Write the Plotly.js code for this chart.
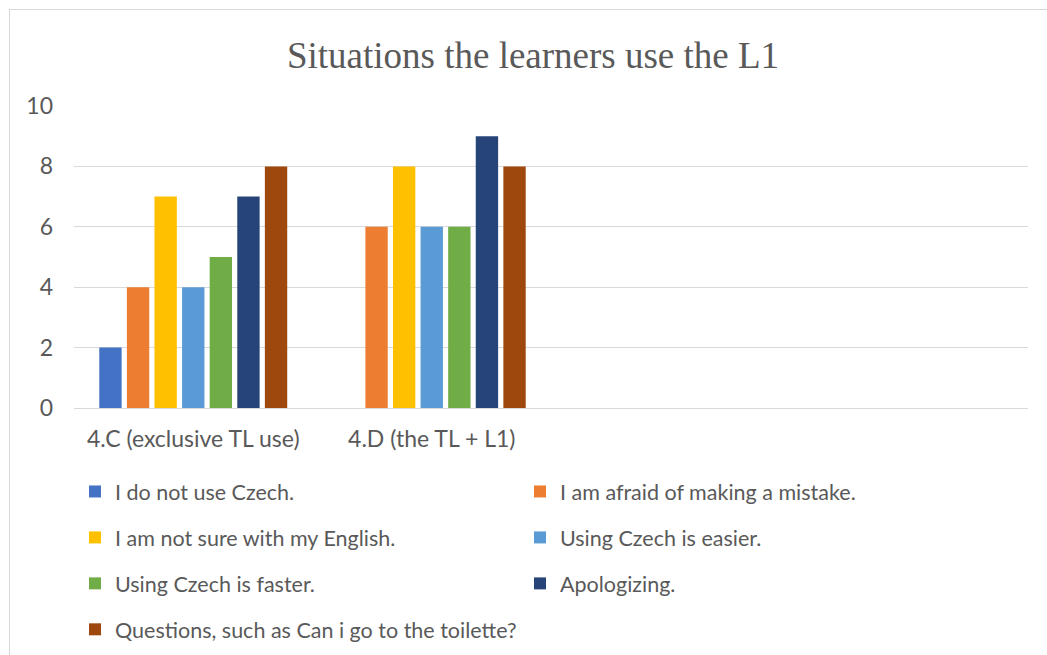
<!DOCTYPE html>
<html>
<head>
<meta charset="utf-8">
<script src="https://cdn.plot.ly/plotly-3.0.1.min.js"></script>
<style>
html,body{margin:0;padding:0;background:#fff;}
#wrap{position:relative;width:1047px;height:655px;overflow:hidden;}
#chart{position:absolute;left:0;top:0;width:1047px;height:655px;}
#frame{position:absolute;left:9px;top:9px;width:1100px;height:700px;border:1px solid #d9d9d9;pointer-events:none;}
</style>
</head>
<body>
<div id="wrap"><div id="chart"></div><div id="frame"></div></div>
<script>
const categories = ["4.C (exclusive TL use)", "4.D (the TL + L1)"];
const seriesNames = [
  "I do not use Czech.",
  "I am afraid of making a mistake.",
  "I am not sure with my English.",
  "Using Czech is easier.",
  "Using Czech is faster.",
  "Apologizing.",
  "Questions, such as Can i go to the toilette?"
];
const doNotUseCzech = [2, null];
const afraidMistake = [4, 6];
const notSureEnglish = [7, 8];
const czechEasier = [4, 6];
const czechFaster = [5, 6];
const apologizing = [7, 9];
const questions = [8, 8];
const seriesValues = [doNotUseCzech, afraidMistake, notSureEnglish, czechEasier, czechFaster, apologizing, questions];
const colors = ["#4472C4", "#ED7D31", "#FFC000", "#5B9BD5", "#70AD47", "#264478", "#9E480E"];

const textColor = "#595959";
const traces = seriesNames.map((name, i) => ({
  type: "bar",
  name: name,
  x: categories,
  y: seriesValues[i],
  marker: {color: colors[i]},
  legend: (i % 2 === 0) ? "legend" : "legend2",
  legendgroup: "g" + i,
  hoverinfo: "y+name"
}));

const sans = "Lato, 'Liberation Sans', sans-serif";
const legendFont = {family: sans, size: 21.5, color: textColor};
const plotH = 655 - 106 - 247;
const plotW = 1047 - 74 - 19;
function px2paperX(px){ return (px - 74) / plotW; }
function px2paperY(py){ return (655 - 247 - py) / plotH; }

const layout = {
  width: 1047, height: 655,
  margin: {l: 74, r: 19, t: 106, b: 247, autoexpand: false},
  paper_bgcolor: "rgba(0,0,0,0)",
  plot_bgcolor: "#fff",
  title: {
    text: "Situations the learners use the L1",
    font: {family: "'Liberation Serif', 'Times New Roman', serif", size: 37, color: textColor},
    x: 533 / 1047, xanchor: "center", y: 1 - 55/655, yanchor: "middle"
  },
  barmode: "group",
  bargap: 0.19,
  bargroupgap: 0.19,
  xaxis: {
    type: "category",
    range: [-0.5, 3.5],
    showgrid: false,
    showline: false,
    ticks: "",
    tickfont: {family: sans, size: 23, color: textColor},
    ticklabelstandoff: 15,
    fixedrange: true
  },
  yaxis: {
    range: [0, 10],
    dtick: 2,
    tick0: 0,
    showgrid: true,
    gridcolor: "#d9d9d9",
    gridwidth: 1,
    zeroline: true,
    zerolinecolor: "#d9d9d9",
    zerolinewidth: 1,
    showline: false,
    ticks: "",
    tickfont: {family: sans, size: 23, color: textColor},
    ticklabelstandoff: 20,
    fixedrange: true
  },
  legend: {
    orientation: "v",
    x: px2paperX(75), xref: "paper",
    y: px2paperY(471), yref: "paper",
    xanchor: "left", yanchor: "top",
    font: legendFont,
    traceorder: "grouped",
    tracegroupgap: 15,
    bgcolor: "rgba(0,0,0,0)",
    itemclick: false, itemdoubleclick: false
  },
  legend2: {
    orientation: "v",
    x: px2paperX(520), xref: "paper",
    y: px2paperY(471), yref: "paper",
    xanchor: "left", yanchor: "top",
    font: legendFont,
    traceorder: "grouped",
    tracegroupgap: 15,
    bgcolor: "rgba(0,0,0,0)",
    itemclick: false, itemdoubleclick: false
  },
  showlegend: true
};

Plotly.newPlot("chart", traces, layout, {displayModeBar: false, staticPlot: true});
</script>
</body>
</html>
